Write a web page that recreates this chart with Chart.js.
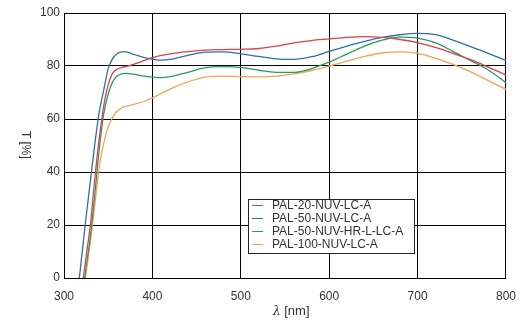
<!DOCTYPE html>
<html>
<head>
<meta charset="utf-8">
<script src="https://cdn.jsdelivr.net/npm/chart.js@4"></script>
<style>
  html, body { margin:0; padding:0; background:#fff; }
  #wrap { position:relative; width:527px; height:327px; font-family:"Liberation Sans", Arial, sans-serif; color:#333; }
  #c { position:absolute; left:0; top:0; }
  #ytitle { position:absolute; left:19px; top:131px; font-size:12px; writing-mode:vertical-rl; white-space:nowrap; }
  #xtitle { position:absolute; left:273px; top:303px; font-size:13px; white-space:nowrap; }
  #xtitle i { font-family:"DejaVu Serif", serif; font-size:12px; }
  #legend { position:absolute; left:248px; top:199px; width:165px; height:53px; border:1px solid #222; background:#fff; font-size:12px; }
  #legend .rows { position:relative; top:-1px; }
  #legend .row { height:13px; line-height:13px; position:relative; white-space:nowrap; }
  #legend .ln { position:absolute; left:3px; top:6px; width:11px; height:1px; }
  #legend .tx { position:absolute; left:23px; top:0; }
</style>
</head>
<body>
<div id="wrap">
  <canvas id="c" width="527" height="327"></canvas>
  <div id="ytitle">T [%]</div>
  <div id="xtitle"><i>λ</i> [nm]</div>
  <div id="legend"><div class="rows" id="rows"></div></div>
</div>
<script>
/* transmission curves, T [%] vs wavelength */
const WAVELENGTHS = [315,320,325,330,335,340,345,350,355,360,365,370,380,390,400,410,420,440,460,480,
                     500,520,540,560,580,600,620,640,660,680,700,720,740,760,780,800];
const PAL_20_NUV_LC_A = [-20,-5,8,20.5,38,53,65,73,77.3,78.8,79.4,79.8,80.8,82,83.2,84,84.6,85.4,86,86.2,
                         86.3,86.6,87.5,88.7,89.6,90.2,90.8,91.1,90.8,90,88.8,87,84.8,82.4,79.6,76.6];
const PAL_50_NUV_LC_A = [-7,8,23,37,51,63,71,79,82.8,84.6,85.3,85.3,84.3,83.3,82.6,82.2,82.5,84,85.2,85.3,
                         84.6,83.6,82.7,82.5,83.5,85.5,87.5,89.3,90.8,91.8,92.3,91.8,89.8,87.3,84.8,82];
const PAL_50_NUV_HR_L_LC_A = [-25,-10,4,16,32,49,62,69.5,74,76.2,77,77.2,76.8,76.2,75.8,75.6,76,77.6,79.4,79.8,
                              79.5,78.4,77.6,77.6,79,81.5,84.5,87.5,89.8,90.9,90.5,88.8,85.5,82,78.5,73.7];
const PAL_100_NUV_LC_A = [-30,-12,2,14,28,42,51,57,60.5,63,64.2,64.8,65.6,66.6,68,69.6,71.3,74,75.8,76.2,
                          76,75.9,76.2,77,78.3,80,81.8,83.6,84.9,85.3,84.8,83,80.6,77.8,74.5,71.2];
const SERIES_NAMES = ["PAL-20-NUV-LC-A","PAL-50-NUV-LC-A","PAL-50-NUV-HR-L-LC-A","PAL-100-NUV-LC-A"];
const SERIES_COLORS = ["#d8424f","#2f6ea6","#2a9a5e","#f2a457"];
const X_TICKS = [300,400,500,600,700,800];
const Y_TICKS = [0,20,40,60,80,100];

const values = [PAL_20_NUV_LC_A, PAL_50_NUV_LC_A, PAL_50_NUV_HR_L_LC_A, PAL_100_NUV_LC_A];
const TICK = "#333", GRID = "#000";
const tickFont = { family:"'Liberation Sans', Arial, sans-serif", size:12 };

const datasets = values.map((v,i) => ({
  label: SERIES_NAMES[i],
  data: WAVELENGTHS.map((x,j) => ({ x, y: v[j] })),
  borderColor: SERIES_COLORS[i], backgroundColor: SERIES_COLORS[i],
  borderWidth: 1.3, pointRadius: 0, fill: false,
  cubicInterpolationMode: "monotone"
}));

new Chart(document.getElementById("c"), {
  type: "line",
  data: { datasets },
  options: {
    responsive:false, animation:false, devicePixelRatio:1,
    layout: { padding:{ left:0, right:21, top:13, bottom:0 } },
    plugins: { legend:{display:false}, tooltip:{enabled:false} },
    scales: {
      x: { type:"linear", min:X_TICKS[0], max:X_TICKS[X_TICKS.length-1],
        afterBuildTicks: s => { s.ticks = X_TICKS.map(v => ({ value:v })); },
        afterFit: s => { s.height = 49; },
        grid:{ color:GRID, lineWidth:1, drawTicks:false },
        border:{ color:GRID, width:1 },
        ticks:{ color:TICK, font:tickFont, padding:11, maxRotation:0 } },
      y: { min:Y_TICKS[0], max:Y_TICKS[Y_TICKS.length-1],
        afterBuildTicks: s => { s.ticks = Y_TICKS.map(v => ({ value:v })); },
        afterFit: s => { s.width = 64; },
        grid:{ color:GRID, lineWidth:1, drawTicks:false },
        border:{ color:GRID, width:1 },
        ticks:{ color:TICK, font:tickFont, padding:4 } }
    }
  }
});

const rows = document.getElementById("rows");
SERIES_NAMES.forEach((n,i) => {
  const r = document.createElement("div");
  r.className = "row";
  r.innerHTML = `<span class="ln" style="background:${SERIES_COLORS[i]}"></span><span class="tx">${n}</span>`;
  rows.appendChild(r);
});
</script>
</body>
</html>
